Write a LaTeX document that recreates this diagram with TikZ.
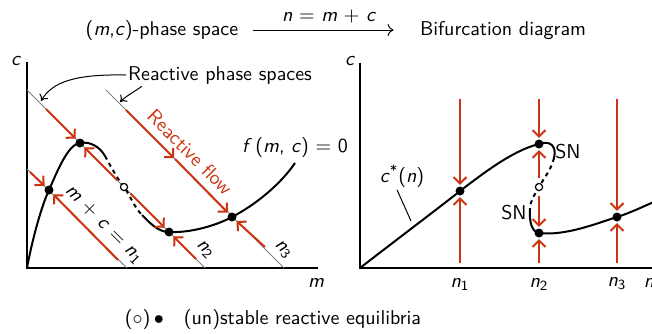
\documentclass[tikz,border=0pt]{standalone}
\renewcommand{\familydefault}{\sfdefault}
\usetikzlibrary{arrows.meta}
\definecolor{flowred}{RGB}{204,51,17}
\newcommand{\sv}[1]{\textit{#1}}
\newcommand{\svn}[1]{\textit{n}\textsubscript{#1}}

\begin{document}
\begin{tikzpicture}[
    x=0.5pt, y=-0.5pt,
    every node/.style={inner sep=1pt}
]

\tikzset{
    axis/.style={line width=0.7pt},
    curve/.style={line width=1pt},
    unst/.style={line width=1pt, dash pattern=on 2pt off 2pt},
    space/.style={gray, line width=0.5pt},
    flow/.style={flowred, line width=1pt, shorten >=0.6pt,
                 -{Straight Barb[length=3.2pt,width=6.5pt]}},
    eq/.style={circle, fill=black, inner sep=0pt, minimum size=4.5pt},
    uneq/.style={circle, draw=black, fill=white, line width=0.6pt,
                 inner sep=0pt, minimum size=3.6pt},
    pointer/.style={line width=0.5pt, -{To[length=3pt,width=5pt]}}
}

\useasboundingbox (0,0) rectangle (652,333);

% ================= title =================

\node (ttlL) at (162,30) {(\sv{m},\sv{c})-phase space};
\node (ttlR) at (503,31) {Bifurcation diagram};
\draw[-{To[length=3pt,width=6pt]}, line width=0.5pt, shorten <=6pt, shorten >=12pt]
    (ttlL.east) -- (ttlL.east -| ttlR.west) node[midway, above=2pt] {\sv{n} = \sv{m} + \sv{c}};

% ================= (m,c)-phase space =================

\coordinate (O1)   at (27,268);
\coordinate (c1)   at (27,62);
\coordinate (m1)   at (318,268);
\draw[axis] (c1) -- (O1) -- (m1);
\node (clabL) at (16,61)  {\sv{c}};
\node (mlabL) at (316,283) {\sv{m}};

% reactive phase spaces m+c=n
\coordinate (s1a) at (27,169);  \coordinate (s1b) at (127,268);
\coordinate (s2a) at (27,90);   \coordinate (s2b) at (205,268);
\coordinate (s3a) at (106,90);  \coordinate (s3b) at (284,268);
\draw[space] (s1a) -- (s1b);
\draw[space] (s2a) -- (s2b);
\draw[space] (s3a) -- (s3b);

% f(m,c)=0
\coordinate (p1)  at (49,190);
\coordinate (p2)  at (80,143);
\coordinate (p2u) at (124,187);
\coordinate (p2s) at (169,232);
\coordinate (p3)  at (232,217);
\coordinate (k1)  at (105,156);
\coordinate (k2)  at (142,215);
\coordinate (pend) at (295,163);

\draw[curve] (O1) .. controls (33,236) and (42,205) .. (p1)
    .. controls (57,172) and (68,144) .. (p2)
    .. controls (90,141) and (100,147) .. (k1);
\draw[unst] (k1) .. controls (110,165) and (118,180) .. (p2u)
    .. controls (130,195) and (134,207) .. (k2);
\draw[curve] (k2) .. controls (150,223) and (158,232) .. (p2s)
    .. controls (190,233) and (215,226) .. (p3)
    .. controls (255,205) and (280,185) .. (pend);

\node[eq]   (a1)  at (p1)  {};
\node[eq]   (a2)  at (p2)  {};
\node[uneq] (a2u) at (p2u) {};
\node[eq]   (a2s) at (p2s) {};
\node[eq]   (a3)  at (p3)  {};

% reactive flow
\coordinate (f1a) at (30,172);   \coordinate (f1b) at (118,260);
\coordinate (f2a) at (46,109);   \coordinate (f2b) at (196,259);
\coordinate (f3a) at (126,110);  \coordinate (f3m) at (175,159);
\coordinate (f3b) at (265,247);

\draw[flow] (f1a) -- (a1);
\draw[flow] (f1b) -- (a1);
\draw[flow] (f2a) -- (a2);
\draw[flow, shorten <=2.5pt] (a2u) -- (a2);
\draw[flow, shorten <=2.5pt] (a2u) -- (a2s);
\draw[flow] (f2b) -- (a2s);
\draw[flow] (f3a) -- (f3m);
\draw[flow] (f3m) -- (a3);
\draw[flow] (f3b) -- (a3);

\node[flowred, rotate=-45] (rflow) at (190,152) {Reactive flow};
\node[rotate=-45] (lab1) at (104,225) {\sv{m} + \sv{c} = \svn{1}};
\node[rotate=-45] (lab2) at (205,250) {\svn{2}};
\node[rotate=-45] (lab3) at (283,250) {\svn{3}};
\node (fmc) at (295,147) {\sv{f}\,(\sv{m}, \sv{c}) = 0};

\node (rps) at (220,75) {Reactive phase spaces};
\coordinate (t1) at (41,101);
\coordinate (t2) at (120,102);
\draw[pointer] (rps.west) .. controls (75,74) and (52,82) .. (t1);
\draw[pointer] ([xshift=8pt]rps.south west) .. controls (134,92) and (126,96) .. (t2);

% ================= bifurcation diagram =================

\coordinate (O2) at (360,268);
\coordinate (c2) at (360,63);
\coordinate (n2) at (660,268);
\draw[axis] (c2) -- (O2) -- (n2);
\node (clabR) at (350,61)  {\sv{c}};
\node (nlabR) at (649,283) {\sv{n}};
\node (nn1) at (460,284) {\svn{1}};
\node (nn2) at (539,284) {\svn{2}};
\node (nn3) at (617,284) {\svn{3}};

% c*(n)
\coordinate (q1)  at (460,191);
\coordinate (q2)  at (539,144);
\coordinate (sn1) at (554,158);
\coordinate (q2u) at (539,187);
\coordinate (sn2) at (530,209);
\coordinate (q2s) at (539,233);
\coordinate (q3)  at (617,217);
\coordinate (qend) at (656,201);

\draw[curve] (O2) .. controls (400,237) and (440,207) .. (q1)
    .. controls (490,168) and (515,150) .. (q2)
    .. controls (550,140) and (557,146) .. (sn1);
\draw[unst] (sn1) .. controls (551,170) and (544,178) .. (q2u)
    .. controls (534,196) and (530,201) .. (sn2);
\draw[curve] (sn2) .. controls (529,222) and (532,232) .. (q2s)
    .. controls (565,236) and (595,224) .. (q3)
    .. controls (630,213) and (642,207) .. (qend);

\node[eq]   (b1)  at (q1)  {};
\node[eq]   (b2)  at (q2)  {};
\node[uneq] (b2u) at (q2u) {};
\node[eq]   (b2s) at (q2s) {};
\node[eq]   (b3)  at (q3)  {};

\node (snU) at (568,152) {SN};
\node (snL) at (514,213) {SN};

\node (cstar) at (402,176) {\sv{c}\textsuperscript{*}(\sv{n})};
\coordinate (cpt) at (411,221);
\draw[line width=0.5pt] ([xshift=-2.5pt]cstar.south) -- (cpt);

% flow along n
\coordinate (r1t) at (460,99);  \coordinate (r1b) at (460,263);
\coordinate (r2t) at (539,99);  \coordinate (r2b) at (539,263);
\coordinate (r3t) at (617,99);  \coordinate (r3b) at (617,263);

\draw[flow] (r1t) -- (b1);
\draw[flow] (r1b) -- (b1);
\draw[flow] (r2t) -- (b2);
\draw[flow, shorten <=2.5pt] (b2u) -- (b2);
\draw[flow, shorten <=2.5pt] (b2u) -- (b2s);
\draw[flow] (r2b) -- (b2s);
\draw[flow] (r3t) -- (b3);
\draw[flow] (r3b) -- (b3);

% ================= legend =================

\node (legend) at (273,319) {($\circ$)\,$\bullet$\quad(un)stable reactive equilibria};

\end{tikzpicture}
\end{document}
